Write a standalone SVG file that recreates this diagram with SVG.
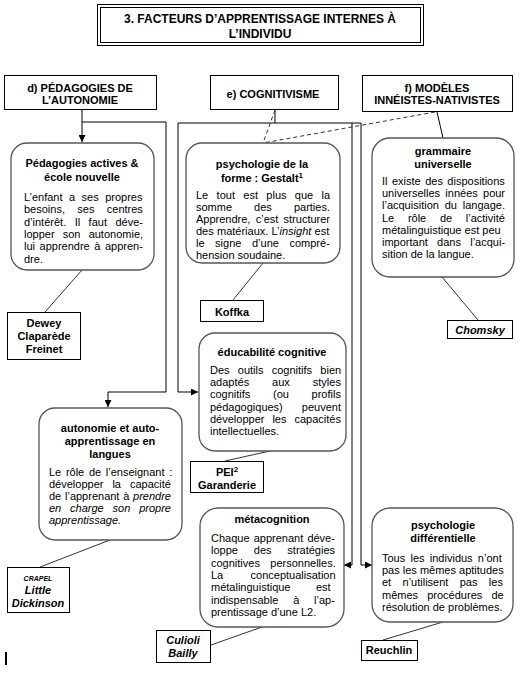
<svg xmlns="http://www.w3.org/2000/svg" width="522" height="673" viewBox="0 0 522 673">
<style>
.bg{fill:#fff}
.hdr{fill:#fff;stroke:#000;stroke-width:1}
.rnd{fill:#fff;stroke:#555;stroke-width:1.3}
.nm{fill:#fff;stroke:#000;stroke-width:1}
.cn{fill:none;stroke:#000;stroke-width:1}
.ds{fill:none;stroke:#333;stroke-width:1;stroke-dasharray:4,3}
.lk{fill:none;stroke:#333;stroke-width:1}
text{font-family:"Liberation Sans",Arial,sans-serif;fill:#000}
.tt{font-size:12px;font-weight:bold;text-anchor:middle}
.h{font-size:11px;font-weight:bold;text-anchor:middle}
.b{font-size:11px}
.n{font-size:11px;font-weight:bold;text-anchor:middle}
.ni{font-size:11px;font-weight:bold;font-style:italic;text-anchor:middle}
.i{font-style:italic}
</style>
<defs>
<marker id="ar" viewBox="0 0 8 8" refX="8" refY="4" markerWidth="7" markerHeight="7" markerUnits="userSpaceOnUse" orient="auto">
<path d="M0,0 L8,4 L0,8 z" fill="#000"/>
</marker>
</defs>
<rect class="bg" x="0" y="0" width="522" height="673"/>

<g id="connectors">
<path class="cn" d="M82,110 V142" marker-end="url(#ar)"/>
<path class="cn" d="M82,122 H166 V392 H108 V407" marker-end="url(#ar)"/>
<path class="cn" d="M275,110 V123"/>
<path class="cn" d="M178,123 H361"/>
<path class="cn" d="M178,123 V392 H198" marker-end="url(#ar)"/>
<path class="cn" d="M352,123 V565 H344" marker-end="url(#ar)"/>
<path class="cn" d="M361,123 V565 H372" marker-end="url(#ar)"/>
<path class="ds" d="M275,110 L263,143"/>
<path class="ds" d="M435,112 L263,143"/>
<path class="cn" d="M437,112 L443,138"/>
<path class="lk" d="M82,270 L45,312"/>
<path class="lk" d="M263,263 L233,300"/>
<path class="lk" d="M442,277 L478,320"/>
<path class="lk" d="M270,451 L225,461"/>
<path class="lk" d="M110,540 L40,567"/>
<path class="lk" d="M262,627 L211,645"/>
<path class="lk" d="M443,622 L383,640"/>
</g>

<g id="title">
<rect class="hdr" x="97.5" y="4.5" width="326" height="41"/>
<rect class="hdr" x="100.5" y="7.5" width="320" height="35"/>
<text class="tt" x="260" y="23">3. FACTEURS D’APPRENTISSAGE INTERNES À</text>
<text class="tt" x="260" y="38">L’INDIVIDU</text>
</g>

<g id="d-pedagogies">
<rect class="hdr" x="4.5" y="75.5" width="152" height="34"/>
<text class="h" x="80" y="92">d) PÉDAGOGIES DE</text>
<text class="h" x="80" y="104">L’AUTONOMIE</text>
</g>

<g id="e-cognitivisme">
<rect class="hdr" x="210.5" y="75.5" width="128" height="34"/>
<text class="h" x="273" y="98">e) COGNITIVISME</text>
</g>

<g id="f-modeles">
<rect class="hdr" x="362.5" y="75.5" width="150" height="36"/>
<text class="h" x="437" y="92">f) MODÈLES</text>
<text class="h" x="437" y="104">INNÉISTES-NATIVISTES</text>
</g>

<g id="pedagogies-actives">
<rect class="rnd" x="11" y="143" width="143" height="127" rx="16" ry="16"/>
<text class="h" x="82" y="167">Pédagogies actives &amp;</text>
<text class="h" x="82" y="181">école nouvelle</text>
<text class="b" x="24" y="201" style="word-spacing:3.4px">L’enfant a ses propres</text>
<text class="b" x="24" y="213.3" style="word-spacing:9.3px">besoins, ses centres</text>
<text class="b" x="24" y="225.6" style="word-spacing:5.4px">d’intérêt. Il faut déve-</text>
<text class="b" x="24" y="237.9" style="word-spacing:5.1px">lopper son autonomie,</text>
<text class="b" x="24" y="250.2" style="word-spacing:1.5px">lui apprendre à appren-</text>
<text class="b" x="24" y="262.5">dre.</text>
</g>

<g id="dewey">
<rect class="nm" x="7.5" y="312.5" width="73" height="47"/>
<text class="n" x="44" y="327">Dewey</text>
<text class="n" x="44" y="340">Claparède</text>
<text class="n" x="44" y="353">Freinet</text>
</g>

<g id="gestalt">
<rect class="rnd" x="186" y="143" width="154" height="120" rx="16" ry="16"/>
<text class="h" x="262" y="168">psychologie de la</text>
<text class="h" x="262" y="182">forme : Gestalt<tspan font-size="8" dy="-4">1</tspan></text>
<text class="b" x="196" y="199" style="word-spacing:5.3px">Le tout est plus que la</text>
<text class="b" x="196" y="211" style="word-spacing:19px">somme des parties.</text>
<text class="b" x="196" y="223" style="word-spacing:2.2px">Apprendre, c’est structurer</text>
<text class="b" x="196" y="235" style="word-spacing:0.2px">des matériaux. L’<tspan class="i">insight</tspan> est</text>
<text class="b" x="196" y="247" style="word-spacing:7.5px">le signe d’une compré-</text>
<text class="b" x="196" y="259">hension soudaine.</text>
</g>

<g id="koffka">
<rect class="nm" x="200.5" y="300.5" width="63" height="21"/>
<text class="n" x="232" y="316">Koffka</text>
</g>

<g id="grammaire">
<rect class="rnd" x="372" y="138" width="142" height="139" rx="18" ry="18"/>
<text class="h" x="443" y="155">grammaire</text>
<text class="h" x="443" y="168">universelle</text>
<text class="b" x="382" y="185" style="word-spacing:1.4px">Il existe des dispositions</text>
<text class="b" x="382" y="197.2" style="word-spacing:2.2px">universelles innées pour</text>
<text class="b" x="382" y="209.4" style="word-spacing:2.8px">l’acquisition du langage.</text>
<text class="b" x="382" y="221.6" style="word-spacing:10.6px">Le rôle de l’activité</text>
<text class="b" x="382" y="233.8">métalinguistique est peu</text>
<text class="b" x="382" y="246" style="word-spacing:6.2px">important dans l’acqui-</text>
<text class="b" x="382" y="258.2">sition de la langue.</text>
</g>

<g id="chomsky">
<rect class="nm" x="447.5" y="320.5" width="65" height="18"/>
<text class="ni" x="480" y="334">Chomsky</text>
</g>

<g id="educabilite">
<rect class="rnd" x="199" y="333" width="147" height="118" rx="16" ry="16"/>
<text class="h" x="272" y="356">éducabilité cognitive</text>
<text class="b" x="210" y="374" style="word-spacing:5.2px">Des outils cognitifs bien</text>
<text class="b" x="210" y="386.2" style="word-spacing:19.9px">adaptés aux styles</text>
<text class="b" x="210" y="398.4" style="word-spacing:19.6px">cognitifs (ou profils</text>
<text class="b" x="210" y="410.6" style="word-spacing:16px">pédagogiques) peuvent</text>
<text class="b" x="210" y="422.8" style="word-spacing:4.9px">développer les capacités</text>
<text class="b" x="210" y="435">intellectuelles.</text>
</g>

<g id="pei">
<rect class="nm" x="190.5" y="461.5" width="73" height="31"/>
<text class="n" x="227" y="476">PEI<tspan font-size="8" dy="-4">2</tspan></text>
<text class="n" x="227" y="489">Garanderie</text>
</g>

<g id="autonomie">
<rect class="rnd" x="39" y="408" width="143" height="132" rx="16" ry="16"/>
<text class="h" x="110" y="432">autonomie et auto-</text>
<text class="h" x="110" y="445">apprentissage en</text>
<text class="h" x="110" y="458">langues</text>
<text class="b" x="49" y="476" style="word-spacing:1.6px">Le rôle de l’enseignant :</text>
<text class="b" x="49" y="488" style="word-spacing:5.9px">développer la capacité</text>
<text class="b" x="49" y="500" style="word-spacing:0.7px">de l’apprenant à <tspan class="i">prendre</tspan></text>
<text class="b i" x="49" y="512" style="word-spacing:5.8px">en charge son propre</text>
<text class="b i" x="49" y="524">apprentissage.</text>
</g>

<g id="little-dickinson">
<rect class="nm" x="7.5" y="567.5" width="62" height="45"/>
<text class="ni" x="38" y="581" font-size="7" style="font-size:7px">CRAPEL</text>
<text class="ni" x="38" y="594">Little</text>
<text class="ni" x="38" y="607">Dickinson</text>
</g>

<g id="metacognition">
<rect class="rnd" x="200" y="508" width="144" height="119" rx="18" ry="18"/>
<text class="h" x="272" y="523">métacognition</text>
<text class="b" x="211" y="542" style="word-spacing:1.1px">Chaque apprenant déve-</text>
<text class="b" x="211" y="554.3" style="word-spacing:12.8px">loppe des stratégies</text>
<text class="b" x="211" y="566.6" style="word-spacing:7.3px">cognitives personnelles.</text>
<text class="b" x="211" y="578.9" style="word-spacing:24.3px">La conceptualisation</text>
<text class="b" x="211" y="591.2" style="word-spacing:22.4px">métalinguistique est</text>
<text class="b" x="211" y="603.5" style="word-spacing:11.8px">indispensable à l’ap-</text>
<text class="b" x="211" y="615.8">prentissage d’une L2.</text>
</g>

<g id="culioli">
<rect class="nm" x="156.5" y="630.5" width="54" height="32"/>
<text class="ni" x="183" y="644">Culioli</text>
<text class="ni" x="183" y="657">Bailly</text>
</g>

<g id="psy-differentielle">
<rect class="rnd" x="372" y="508" width="141" height="114" rx="18" ry="18"/>
<text class="h" x="443" y="529">psychologie</text>
<text class="h" x="443" y="542">différentielle</text>
<text class="b" x="382" y="562" style="word-spacing:2.2px">Tous les individus n’ont</text>
<text class="b" x="382" y="574.2">pas les mêmes aptitudes</text>
<text class="b" x="382" y="586.4" style="word-spacing:8.3px">et n’utilisent pas les</text>
<text class="b" x="382" y="598.6" style="word-spacing:6.1px">mêmes procédures de</text>
<text class="b" x="382" y="610.8">résolution de problèmes.</text>
</g>

<g id="reuchlin">
<rect class="nm" x="361.5" y="640.5" width="56" height="20"/>
<text class="n" x="389" y="654">Reuchlin</text>
</g>

<rect x="5" y="652" width="2" height="13" fill="#000"/>
</svg>
